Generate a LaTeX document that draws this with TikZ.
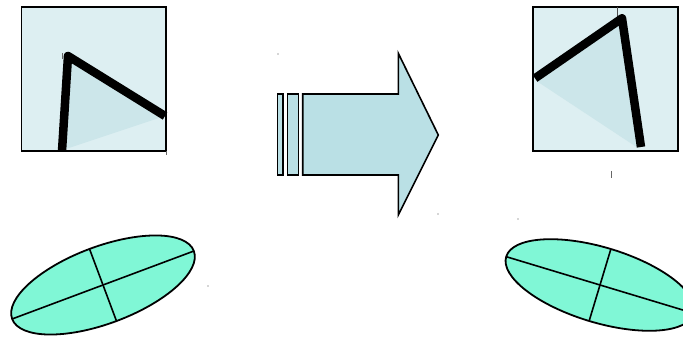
\documentclass[tikz,border=0pt]{standalone}
\begin{document}
\begin{tikzpicture}[x=1pt,y=1pt,
  sqbox/.style={draw=black,line width=1.8pt,fill=sqfill},
  thickline/.style={line width=8.5pt,line join=round,black},
  shade/.style={fill=trifill,draw=none},
  ovalshape/.style={draw=black,line width=1.8pt,fill=ovalfill},
  axisline/.style={draw=black,line width=1.6pt},
  arrowpart/.style={draw=black,line width=1.6pt,fill=arrowfill,line join=miter},
  tinymark/.style={draw=black!60,line width=0.6pt}]
\definecolor{sqfill}{RGB}{221,239,242}
\definecolor{trifill}{RGB}{204,230,234}
\definecolor{arrowfill}{RGB}{186,224,229}
\definecolor{ovalfill}{RGB}{128,247,214}
\useasboundingbox (0,0) rectangle (683,337);
% left square
\draw[sqbox] (21.5,186) rectangle (166,330);
\fill[shade] (68,281) -- (165,221) -- (66,188) -- cycle;
\draw[thickline] (62,186) -- (68,281) -- (165,221);
\draw[tinymark] (62,278) -- (62,284);
\draw[tinymark] (166,186) -- (166,182);
% right square
\draw[sqbox] (533.3,186.3) rectangle (677.7,330.3);
\draw[black!70,line width=0.6pt] (617.7,330.3) -- (617.7,318);
\fill[shade] (535,257) -- (622,317) -- (638,189) -- cycle;
\draw[thickline] (535,258.7) -- (622,318.7) -- (641,190);
\draw[tinymark] (611,166) -- (611,159);
% arrow
\draw[arrowpart] (277.5,162) rectangle (282.7,243);
\draw[arrowpart] (287.3,162) rectangle (298.3,243);
\draw[arrowpart] (302.7,162) -- (398.3,162) -- (398.3,122) -- (438.3,202)
  -- (398.3,283.7) -- (398.3,243) -- (302.7,243) -- cycle;
% tiny marks
\fill[black!70] (278,283) circle (0.6);
\fill[black!70] (438,123) circle (0.6);
\fill[black!70] (518,118) circle (0.6);
\fill[black!70] (208,51) circle (0.6);
% left ellipse
\begin{scope}[shift={(103,52)},rotate=20.5]
  \draw[ovalshape] (0,0) ellipse [x radius=97, y radius=38.5];
  \draw[axisline] (-97,0) -- (97,0);
  \draw[axisline] (0,-38.5) -- (0,38.5);
\end{scope}
% right ellipse
\begin{scope}[shift={(600,52)},rotate=-16.8]
  \draw[ovalshape] (0,0) ellipse [x radius=98, y radius=37.6];
  \draw[axisline] (-98,0) -- (98,0);
  \draw[axisline] (0,-37.6) -- (0,37.6);
\end{scope}
\end{tikzpicture}
\end{document}
